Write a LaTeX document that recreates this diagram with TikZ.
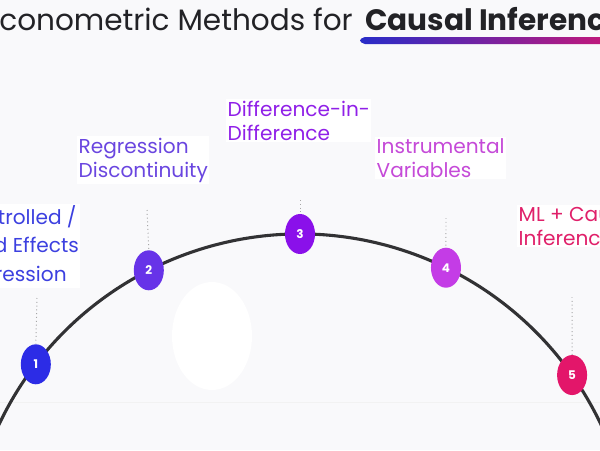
\documentclass[tikz,border=0pt]{standalone}
\usepackage{fontspec}
\setmainfont{Poppins}
\usetikzlibrary{shapes.geometric}
\definecolor{bgcol}{RGB}{249,249,251}
\definecolor{titlecol}{RGB}{34,34,38}
\definecolor{arccol}{RGB}{50,50,52}
\definecolor{ulA}{RGB}{40,44,200}
\definecolor{ulB}{RGB}{215,22,112}
\definecolor{stepA}{RGB}{44,44,230}
\definecolor{stepB}{RGB}{103,51,232}
\definecolor{stepC}{RGB}{138,16,234}
\definecolor{stepD}{RGB}{196,60,230}
\definecolor{stepE}{RGB}{227,22,106}
\definecolor{txtA}{RGB}{60,64,224}
\definecolor{txtB}{RGB}{106,70,224}
\definecolor{txtC}{RGB}{144,32,232}
\definecolor{txtD}{RGB}{197,74,216}
\definecolor{txtE}{RGB}{224,32,106}
\tikzstyle{num} = [ellipse, minimum width=0.75cm, minimum height=1cm, inner sep=0pt, text=white, font=\bfseries\fontsize{8.5}{9}\selectfont]
\tikzstyle{method} = [anchor=base west, align=left, inner sep=1pt, fill=white, font=\fontsize{14.3}{17}\selectfont]
\tikzstyle{guide} = [gray!70, dotted, line width=0.7pt]

\begin{document}
\begin{tikzpicture}[x=0.025cm, y=0.025cm]
\useasboundingbox (0,0) rectangle (600,450);
\clip (0,0) rectangle (600,450);
\fill[bgcol] (0,0) rectangle (600,450);

% Title
\node (title) [anchor=base east, inner sep=0pt, text=titlecol, font=\fontsize{21}{25}\selectfont] at (353,420) {Econometric Methods for};
\node (titlebold) [anchor=base west, inner sep=0pt, text=titlecol, font=\bfseries\fontsize{21}{25}\selectfont] at (365,420) {Causal Inference};
\shade[left color=ulA, right color=ulB, rounded corners=3.5] (360,406) rectangle (640,413);

% Backdrop
\draw[gray!10, line width=0.6pt] (0,48) -- (600,48);
\fill[white] (212,114) ellipse [x radius=40, y radius=54];

% Arc
\coordinate (o) at (300,-117);
\draw[arccol, line width=2.2pt] ([shift={(160:333)}]o) arc[start angle=160, end angle=20, radius=333];

% Steps
\node (n1) [num, fill=stepA] at ([shift={(142.5:333)}]o) {1};
\node (n2) [num, fill=stepB] at ([shift={(117:333)}]o) {2};
\node (n3) [num, fill=stepC] at ([shift={(90:333)}]o) {3};
\node (n4) [num, fill=stepD] at ([shift={(64:333)}]o) {4};
\node (n5) [num, fill=stepE] at ([shift={(35.2:333)}]o) {5};

% Guides
\coordinate (g1) at (37,152);
\coordinate (g2) at (147,240);
\coordinate (g3) at (300,250);
\coordinate (g4) at (446,232);
\coordinate (g5) at (572,153);
\draw[guide] (g1) -- (n1.north);
\draw[guide] (g2) -- (n2.north);
\draw[guide] (g3) -- (n3.north);
\draw[guide] (g4) -- (n4.north);
\draw[guide] (g5) -- (n5.north);

% Methods
\node (m1) [method, text=txtA, font=\fontsize{14.3}{20}\selectfont] at (-45,169) {Controlled /\\Fixed Effects\\Regression};
\node (m2) [method, text=txtB] at (77,273) {Regression\\Discontinuity};
\node (m3) [method, text=txtC] at (226,310) {Difference-in-\\Difference};
\node (m4) [method, text=txtD] at (375,273) {Instrumental\\Variables};
\node (m5) [method, text=txtE] at (517,205) {ML + Causal\\Inference};

\end{tikzpicture}
\end{document}
